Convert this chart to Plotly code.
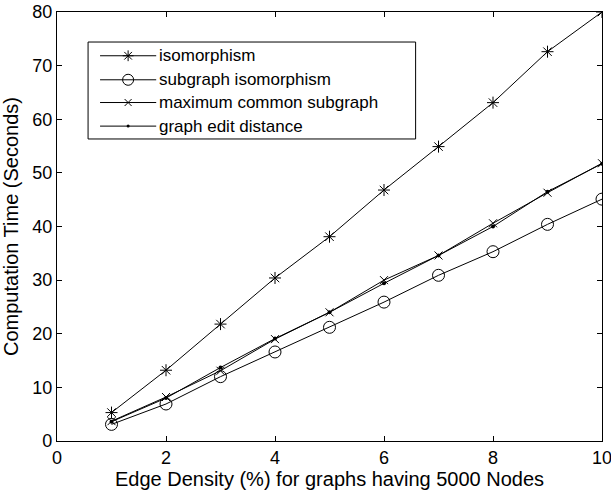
import plotly.graph_objects as go

# Edge density (%) for graphs with 5000 nodes
density = [1, 2, 3, 4, 5, 6, 7, 8, 9, 10]

# Computation time in seconds for each matching task
iso_time = [5.3, 13.2, 21.8, 30.4, 38.1, 46.8, 54.9, 63.1, 72.6, 80.0]
subiso_time = [3.1, 6.9, 12.0, 16.6, 21.2, 25.9, 30.9, 35.3, 40.4, 45.1]
mcs_time = [3.7, 8.2, 13.1, 19.0, 24.0, 30.0, 34.6, 40.6, 46.3, 51.8]
ged_time = [3.6, 8.0, 13.7, 19.1, 24.0, 29.4, 34.6, 40.0, 46.5, 51.7]

series_names = ["isomorphism", "subgraph isomorphism",
                "maximum common subgraph", "graph edit distance"]

x_ticks = [0, 2, 4, 6, 8, 10]
y_ticks = [0, 10, 20, 30, 40, 50, 60, 70, 80]

FONT = "Liberation Sans, Arial, Helvetica, sans-serif"

marker_styles = [
    dict(symbol="asterisk-open", size=10, line=dict(color="black", width=1)),
    dict(symbol="circle-open", size=12, line=dict(color="black", width=1)),
    dict(symbol="x-thin-open", size=8, line=dict(color="black", width=1)),
    dict(symbol="circle", size=4, color="black", line=dict(width=0)),
]
legend_marker_sizes = [9, 11, 7, 3]

fig = go.Figure()

for name, values, mk in zip(series_names,
                            [iso_time, subiso_time, mcs_time, ged_time],
                            marker_styles):
    m = dict(mk)
    m.setdefault("color", "black")
    fig.add_trace(go.Scatter(
        x=density, y=values, name=name, mode="lines+markers",
        line=dict(color="black", width=1), marker=m, showlegend=False,
    ))

# Hand-built legend box (paper coordinates relative to the plot area)
box_x0, box_x1 = 0.057, 0.658
box_y0, box_y1 = 0.704, 0.930
entry_y = [0.898, 0.842, 0.789, 0.734]
line_x0, line_x1 = 0.079, 0.182
text_x = 0.1835

fig.add_shape(type="rect", xref="paper", yref="paper",
              x0=box_x0, x1=box_x1, y0=box_y0, y1=box_y1,
              line=dict(color="black", width=1), fillcolor="white", layer="below")

for name, mk, ey, ms in zip(series_names, marker_styles, entry_y, legend_marker_sizes):
    fig.add_shape(type="line", xref="paper", yref="paper",
                  x0=line_x0, x1=line_x1, y0=ey, y1=ey,
                  line=dict(color="black", width=1), layer="below")
    fig.add_annotation(x=text_x, y=ey, xref="paper", yref="paper",
                       text=name, showarrow=False, xanchor="left", yanchor="middle",
                       font=dict(family=FONT, size=17, color="black"))
    m = dict(mk)
    m.setdefault("color", "black")
    m["size"] = ms
    fig.add_trace(go.Scatter(
        x=[(line_x0 + line_x1) / 2], y=[ey], xaxis="x2", yaxis="y2",
        mode="markers", marker=m, showlegend=False, hoverinfo="skip",
    ))

fig.update_layout(
    width=611, height=493,
    margin=dict(l=57, r=9, t=12, b=52),
    paper_bgcolor="white", plot_bgcolor="white",
    font=dict(family=FONT, color="black"),
    showlegend=False,
    xaxis=dict(
        range=[0, 10], tickvals=x_ticks, ticks="inside", ticklen=5,
        tickcolor="black", showline=True, linecolor="black", linewidth=1.2,
        mirror="allticks", showgrid=False, zeroline=False,
        tickfont=dict(family=FONT, size=18, color="black"),
        ticklabeloverflow="allow",
        title=dict(text="Edge Density (%) for graphs having 5000 Nodes",
                   font=dict(family=FONT, size=20, color="black"), standoff=2),
        automargin=False,
    ),
    yaxis=dict(
        range=[0, 80], tickvals=y_ticks, ticks="inside", ticklen=5,
        tickcolor="black", showline=True, linecolor="black", linewidth=1.2,
        mirror="allticks", showgrid=False, zeroline=False,
        tickfont=dict(family=FONT, size=18, color="black"),
        ticklabeloverflow="allow",
        title=dict(text="Computation Time (Seconds)",
                   font=dict(family=FONT, size=20, color="black"), standoff=8),
        automargin=False,
    ),
    xaxis2=dict(overlaying="x", range=[0, 1], visible=False, fixedrange=True),
    yaxis2=dict(overlaying="y", range=[0, 1], visible=False, fixedrange=True),
)

fig.write_html("out.html")
